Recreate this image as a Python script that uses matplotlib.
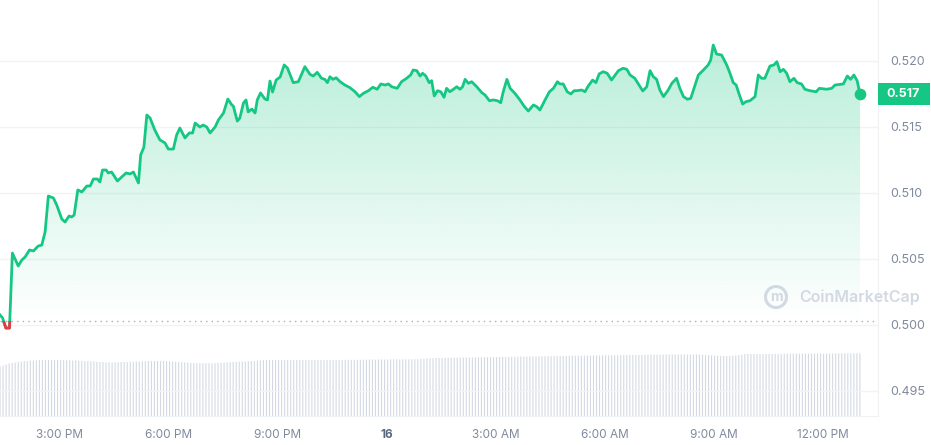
import numpy as np
import matplotlib
matplotlib.use("Agg")
import matplotlib.pyplot as plt
from matplotlib.patches import Circle, Rectangle, Polygon
from matplotlib.transforms import blended_transform_factory, IdentityTransform
from matplotlib.colors import to_rgb

plt.rcParams['font.family'] = ['Inter', 'DejaVu Sans']

# hours counted from 00:00 on the 15th
hours = [13.35, 13.42, 13.51, 13.61, 13.69, 13.85, 13.95, 14.04, 14.16, 14.27,
         14.40, 14.50, 14.59, 14.68, 14.82, 14.91, 15.05, 15.14, 15.25, 15.32,
         15.39, 15.49, 15.60, 15.74, 15.83, 15.92, 16.03, 16.10, 16.17, 16.27,
         16.33, 16.42, 16.58, 16.70, 16.82, 16.93, 17.02, 17.16, 17.22, 17.31,
         17.39, 17.48, 17.61, 17.75, 17.89, 17.98, 18.12, 18.21, 18.30, 18.44,
         18.56, 18.65, 18.72, 18.85, 18.94, 19.04, 19.13, 19.27, 19.36, 19.50,
         19.62, 19.73, 19.77, 19.88, 19.95, 20.05, 20.12, 20.18, 20.28, 20.37,
         20.43, 20.52, 20.64, 20.71, 20.78, 20.85, 20.95, 21.06, 21.17, 21.26,
         21.42, 21.56, 21.74, 21.88, 21.97, 22.08, 22.20, 22.29, 22.36, 22.43,
         22.51, 22.60, 22.71, 22.84, 22.98, 23.12, 23.24, 23.35, 23.49, 23.61,
         23.73, 23.83, 23.95, 24.04, 24.13, 24.28, 24.40, 24.54, 24.65, 24.72,
         24.82, 24.91, 24.98, 25.07, 25.16, 25.23, 25.30, 25.39, 25.48, 25.57,
         25.64, 25.73, 25.83, 25.92, 26.01, 26.08, 26.15, 26.24, 26.33, 26.47,
         26.61, 26.70, 26.82, 26.93, 27.04, 27.13, 27.20, 27.30, 27.39, 27.52,
         27.66, 27.77, 27.89, 28.03, 28.12, 28.21, 28.35, 28.47, 28.58, 28.69,
         28.76, 28.85, 28.96, 29.06, 29.15, 29.22, 29.36, 29.45, 29.54, 29.66,
         29.75, 29.84, 29.95, 30.06, 30.18, 30.28, 30.37, 30.50, 30.60, 30.69,
         30.82, 30.92, 31.04, 31.15, 31.24, 31.33, 31.42, 31.51, 31.61, 31.74,
         31.84, 31.97, 32.06, 32.16, 32.27, 32.36, 32.45, 32.57, 32.71, 32.84,
         32.91, 32.98, 33.07, 33.21, 33.35, 33.44, 33.53, 33.61, 33.70, 33.79,
         33.88, 33.99, 34.13, 34.22, 34.31, 34.40, 34.54, 34.65, 34.73, 34.82,
         34.91, 35.00, 35.09, 35.20, 35.29, 35.41, 35.50, 35.64, 35.81, 35.90,
         36.10, 36.24, 36.33, 36.56, 36.67, 36.76, 36.85, 36.94, 37.02]

prices = [0.50076, 0.50053, 0.49977, 0.49977, 0.50545, 0.50447, 0.50492, 0.50515, 0.50568, 0.50561,
          0.50598, 0.50606, 0.50705, 0.50977, 0.50962, 0.50909, 0.50803, 0.50780, 0.50826, 0.50818,
          0.50833, 0.51023, 0.51008, 0.51053, 0.51053, 0.51106, 0.51106, 0.51083, 0.51174, 0.51174,
          0.51152, 0.51159, 0.51091, 0.51121, 0.51152, 0.51144, 0.51159, 0.51076, 0.51288, 0.51348,
          0.51591, 0.51568, 0.51477, 0.51402, 0.51379, 0.51333, 0.51333, 0.51439, 0.51492, 0.51417,
          0.51455, 0.51455, 0.51530, 0.51500, 0.51515, 0.51500, 0.51455, 0.51500, 0.51553, 0.51606,
          0.51712, 0.51667, 0.51659, 0.51545, 0.51568, 0.51682, 0.51705, 0.51614, 0.51636, 0.51606,
          0.51705, 0.51758, 0.51712, 0.51705, 0.51848, 0.51765, 0.51856, 0.51879, 0.51970, 0.51947,
          0.51836, 0.51843, 0.51957, 0.51899, 0.51886, 0.51914, 0.51869, 0.51861, 0.51836, 0.51881,
          0.51861, 0.51873, 0.51843, 0.51818, 0.51798, 0.51767, 0.51730, 0.51755, 0.51775, 0.51801,
          0.51786, 0.51826, 0.51818, 0.51826, 0.51805, 0.51793, 0.51843, 0.51869, 0.51894, 0.51932,
          0.51927, 0.51886, 0.51907, 0.51886, 0.51836, 0.51851, 0.51735, 0.51775, 0.51767, 0.51725,
          0.51793, 0.51767, 0.51786, 0.51805, 0.51786, 0.51805, 0.51861, 0.51831, 0.51843, 0.51805,
          0.51760, 0.51742, 0.51699, 0.51705, 0.51699, 0.51684, 0.51767, 0.51861, 0.51793, 0.51755,
          0.51705, 0.51659, 0.51621, 0.51667, 0.51654, 0.51629, 0.51705, 0.51767, 0.51793, 0.51843,
          0.51826, 0.51826, 0.51767, 0.51750, 0.51775, 0.51775, 0.51780, 0.51767, 0.51811, 0.51856,
          0.51836, 0.51902, 0.51919, 0.51907, 0.51856, 0.51894, 0.51927, 0.51945, 0.51937, 0.51894,
          0.51869, 0.51826, 0.51773, 0.51805, 0.51927, 0.51881, 0.51861, 0.51780, 0.51730, 0.51780,
          0.51831, 0.51869, 0.51793, 0.51730, 0.51710, 0.51717, 0.51793, 0.51894, 0.51932, 0.51970,
          0.52008, 0.52121, 0.52053, 0.52045, 0.51970, 0.51907, 0.51836, 0.51818, 0.51742, 0.51674,
          0.51692, 0.51699, 0.51730, 0.51894, 0.51869, 0.51869, 0.51962, 0.51970, 0.51995, 0.51919,
          0.51937, 0.51907, 0.51843, 0.51869, 0.51836, 0.51826, 0.51786, 0.51775, 0.51767, 0.51793,
          0.51786, 0.51793, 0.51818, 0.51826, 0.51886, 0.51861, 0.51894, 0.51851, 0.51747]

open_price = 0.50033

# 5 minute volume bars (arbitrary units), one row per hour
vol_start = 13.35
vol_step = 5 / 60
volumes = [
    49.5, 50.5, 51.5, 52.5, 53.0, 53.5, 54.0, 54.5, 55.0, 55.0, 55.5, 55.5,
    55.5, 56.0, 56.0, 56.0, 56.0, 56.0, 56.0, 56.0, 56.0, 55.8, 55.8, 55.6,
    55.5, 55.5, 55.3, 55.2, 55.0, 55.0, 54.8, 54.5, 54.3, 54.0, 54.0, 53.8,
    53.7, 53.7, 53.7, 53.8, 54.0, 54.0, 54.0, 54.2, 54.3, 54.5, 54.5, 54.7,
    54.8, 55.0, 55.0, 55.0, 55.0, 55.0, 55.0, 54.8, 54.6, 54.4, 54.2, 54.0,
    53.8, 53.6, 53.4, 53.2, 53.0, 53.0, 52.8, 52.8, 52.7, 52.7, 52.7, 52.8,
    53.0, 53.2, 53.4, 53.6, 53.8, 54.0, 54.2, 54.4, 54.5, 54.6, 54.8, 55.0,
    55.2, 55.4, 55.6, 55.8, 56.0, 56.0, 56.0, 56.0, 56.0, 56.0, 56.0, 56.0,
    56.0, 56.0, 56.0, 56.0, 56.0, 56.0, 56.0, 56.0, 56.0, 56.0, 56.0, 56.0,
    56.0, 56.0, 56.0, 56.0, 56.0, 56.0, 56.1, 56.1, 56.2, 56.2, 56.2, 56.3,
    56.3, 56.3, 56.4, 56.4, 56.4, 56.5, 56.5, 56.5, 56.5, 56.6, 56.6, 56.6,
    56.6, 56.6, 56.7, 56.7, 56.7, 56.7, 56.8, 57.0, 57.3, 57.5, 57.7, 57.8,
    58.0, 58.0, 58.1, 58.1, 58.2, 58.2, 58.3, 58.3, 58.4, 58.4, 58.5, 58.5,
    58.6, 58.6, 58.7, 58.7, 58.8, 58.8, 58.9, 58.9, 59.0, 59.0, 59.1, 59.1,
    59.2, 59.2, 59.3, 59.3, 59.4, 59.4, 59.5, 59.5, 59.6, 59.6, 59.7, 59.7,
    59.8, 59.8, 59.9, 59.9, 60.0, 60.0, 60.0, 60.1, 60.1, 60.2, 60.2, 60.3,
    60.3, 60.4, 60.4, 60.5, 60.5, 60.5, 60.6, 60.6, 60.7, 60.7, 60.8, 60.8,
    60.8, 60.9, 60.9, 61.0, 61.0, 61.0, 61.0, 61.0, 61.1, 61.1, 61.2, 61.2,
    61.3, 61.3, 61.4, 61.4, 61.5, 61.5, 61.5, 61.5, 61.5, 61.5, 61.5, 61.5,
    61.5, 61.5, 61.4, 61.3, 61.2, 61.0, 60.8, 60.6, 60.4, 60.2, 60.0, 60.0,
    60.0, 60.0, 60.2, 60.6, 61.0, 61.5, 62.0, 62.0, 62.0, 62.0, 62.0, 62.0,
    62.0, 62.1, 62.1, 62.1, 62.2, 62.2, 62.2, 62.2, 62.3, 62.3, 62.3, 62.3,
    62.3, 62.4, 62.4, 62.4, 62.4, 62.5, 62.5, 62.5, 62.5, 62.5, 62.6, 62.6,
    62.6, 62.6, 62.6, 62.7, 62.7, 62.7, 62.7, 62.7, 62.7,
]

x_ticks = [15, 18, 21, 24, 27, 30, 33, 36]
x_labels = ['3:00 PM', '6:00 PM', '9:00 PM', '16', '3:00 AM', '6:00 AM', '9:00 AM', '12:00 PM']
y_ticks = [0.495, 0.500, 0.505, 0.510, 0.515, 0.520]

GREEN = '#16c784'
RED = '#ea3943'
GREY = '#808a9d'

xlim = (13.349, 37.514)
ylim = (0.493106, 0.524621)

fig = plt.figure(figsize=(9.31, 4.45), dpi=100)
pos = [0, 29 / 445, 878 / 931, 416 / 445]

# volume underneath
vax = fig.add_axes(pos)
vt = vol_start + np.arange(len(volumes)) * vol_step
bars = vax.bar(vt, volumes, width=0.03, color='#d3d9e3', linewidth=0)
for b in bars:
    b.set_snap(False)
vax.set_xlim(*xlim)
vax.set_ylim(0, 416)
vax.axis('off')

ax = fig.add_axes(pos)
ax.patch.set_visible(False)

t = np.array(hours)
p = np.array(prices)

# gradient under the line
verts = [(t[0], open_price)] + list(zip(t, p)) + [(t[-1], open_price)]
poly = Polygon(verts, closed=True, facecolor='none', edgecolor='none')
ax.add_patch(poly)
grad = np.zeros((256, 1, 4))
grad[..., :3] = to_rgb(GREEN)
grad[:, 0, 3] = np.linspace(0, 0.3, 256)
im = ax.imshow(grad, extent=[t[0], t[-1], open_price, 0.5212], origin='lower',
               aspect='auto', zorder=1, interpolation='bilinear')
im.set_clip_path(poly)

ax.axhline(open_price, color='#a6b0c3', lw=1, ls=(0, (1, 3)), zorder=2)

ax.plot(t, p, color=GREEN, lw=2, zorder=3, solid_joinstyle='round')
red, = ax.plot(t, p, color=RED, lw=2, zorder=4, solid_joinstyle='round')
below = Rectangle((xlim[0], ylim[0]), xlim[1] - xlim[0], open_price - ylim[0],
                  transform=ax.transData)
red.set_clip_path(below)
ax.scatter([t[-1]], [p[-1]], s=55, color=GREEN, zorder=5, clip_on=False)

ax.set_xlim(*xlim)
ax.set_ylim(*ylim)

ax.set_yticks(y_ticks)
ax.set_yticklabels(['%.3f' % v for v in y_ticks])
ax.yaxis.tick_right()
ax.tick_params(axis='y', length=0, pad=9, labelsize=9, labelcolor=GREY)
ax.grid(axis='y', color='#f1f3f6', lw=1)
ax.set_axisbelow(True)

ax.set_xticks(x_ticks)
ax.set_xticklabels(x_labels)
ax.tick_params(axis='x', length=0, pad=9, labelsize=8.5, labelcolor=GREY)
for lab in ax.get_xticklabels():
    if lab.get_text() == '16':
        lab.set_fontweight('bold')
        lab.set_color('#58667e')

for s in ['top', 'left']:
    ax.spines[s].set_visible(False)
for s in ['right', 'bottom']:
    ax.spines[s].set_color('#eff2f5')

# current price badge
bt = blended_transform_factory(ax.transAxes, ax.transData)
half = 11 / 13200
ax.add_patch(Rectangle((1.0, p[-1] - half), 52 / 878, 2 * half, transform=bt,
                       facecolor=GREEN, edgecolor='none', clip_on=False, zorder=6))
ax.text(903 / 878, p[-1], '%.3f' % p[-1], transform=bt, ha='center', va='center',
        color='white', fontsize=9, fontweight='bold', zorder=7, clip_on=False)

# watermark
wm = '#d3d9e3'
fig.add_artist(Circle((776, 445 - 297), 10.5, transform=IdentityTransform(),
                      fill=False, lw=2.2, ec=wm))
fig.text(776 / 931, 1 - 297 / 445, 'm', ha='center', va='center', fontsize=10,
         fontweight='bold', color=wm)
fig.text(799 / 931, 1 - 297 / 445, 'CoinMarketCap', ha='left', va='center',
         fontsize=11.5, fontweight='semibold', color=wm)

fig.savefig('out.png', dpi=100)
